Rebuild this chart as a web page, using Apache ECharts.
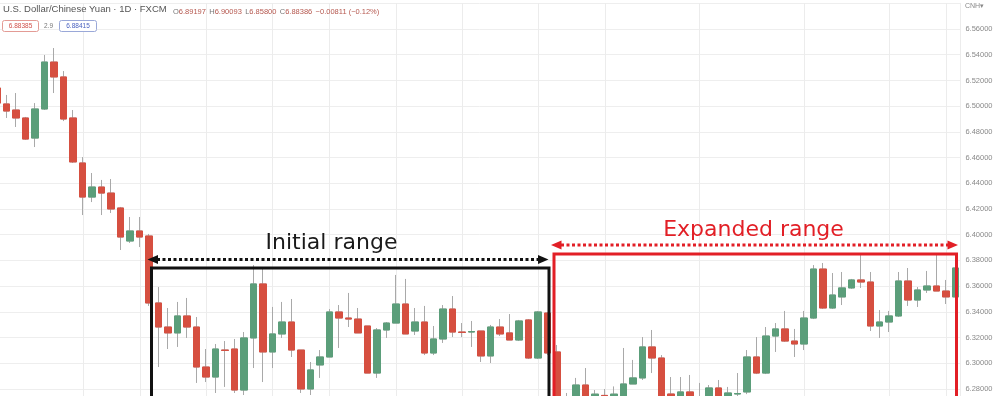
<!DOCTYPE html>
<html><head><meta charset="utf-8">
<script src="https://cdn.jsdelivr.net/npm/echarts/dist/echarts.min.js"></script>
<style>html,body{margin:0;padding:0;background:#fff}#c{width:997px;height:396px}</style>
</head><body><div id="c"></div><script>
// Daily candles USD/CNH (open, close, low, high)
const opens  = [6.5141,6.5017,6.4970,6.4908,6.4752,6.4978,6.5343,6.5227,6.4908,6.4558,6.4293,6.4371,6.4324,6.4208,6.3951,6.4029,6.3990,6.3469,6.3282,6.3236,6.3368,6.3282,6.2971,6.2893,6.3103,6.3111,6.2792,6.3197,6.3617,6.3088,6.3228,6.3321,6.3103,6.2800,6.2987,6.3049,6.3399,6.3352,6.3344,6.3290,6.2924,6.3259,6.3313,6.3461,6.3251,6.3321,6.3080,6.3189,6.3422,6.3243,6.3243,6.3251,6.3057,6.3282,6.3236,6.3181,6.3337,6.3041,6.3391,6.3088,6.2740,6.2740,6.2831,6.2720,6.2750,6.2740,6.2740,6.2839,6.2886,6.3127,6.3041,6.2761,6.2730,6.2777,6.2735,6.2720,6.2808,6.2740,6.2761,6.2777,6.3049,6.2924,6.3212,6.3267,6.3173,6.3150,6.3352,6.3733,6.3430,6.3516,6.3586,6.3648,6.3632,6.3290,6.3321,6.3368,6.3640,6.3492,6.3570,6.3601,6.3562,6.3516];
const closes = [6.5024,6.4962,6.4908,6.4744,6.4978,6.5343,6.5227,6.4900,6.4566,6.4293,6.4371,6.4324,6.4200,6.3982,6.4029,6.3982,6.3469,6.3282,6.3236,6.3368,6.3282,6.2971,6.2893,6.3111,6.3100,6.2792,6.3197,6.3617,6.3088,6.3228,6.3321,6.3103,6.2800,6.2948,6.3049,6.3399,6.3352,6.3344,6.3236,6.2924,6.3259,6.3313,6.3461,6.3228,6.3321,6.3080,6.3189,6.3422,6.3243,6.3240,6.3247,6.3057,6.3282,6.3228,6.3181,6.3329,6.3041,6.3399,6.3080,6.2714,6.2690,6.2831,6.2730,6.2760,6.2730,6.2760,6.2839,6.2886,6.3127,6.3041,6.2720,6.2730,6.2777,6.2735,6.2725,6.2808,6.2730,6.2769,6.2765,6.3049,6.2924,6.3212,6.3267,6.3173,6.3150,6.3352,6.3733,6.3430,6.3531,6.3586,6.3648,6.3632,6.3290,6.3321,6.3368,6.3640,6.3492,6.3570,6.3601,6.3562,6.3516,6.3741];
const lows   = [6.5001,6.4908,6.4838,6.4737,6.4682,6.4970,6.5102,6.4884,6.4558,6.4153,6.4254,6.4153,6.4169,6.3881,6.3936,6.3904,6.3446,6.2971,6.3111,6.3127,6.3197,6.2847,6.2854,6.2769,6.2816,6.2769,6.2753,6.2963,6.2854,6.2963,6.3197,6.3049,6.2769,6.2753,6.2886,6.3049,6.3119,6.3282,6.3236,6.2924,6.2886,6.3197,6.3313,6.3228,6.3220,6.3064,6.3064,6.3158,6.3204,6.3204,6.3127,6.3010,6.3002,6.3212,6.3181,6.3173,6.3033,6.3033,6.3064,6.2676,6.2650,6.2700,6.2700,6.2690,6.2700,6.2700,6.2720,6.2839,6.2870,6.2924,6.2700,6.2700,6.2710,6.2710,6.2700,6.2700,6.2700,6.2720,6.2730,6.2760,6.2916,6.2916,6.3088,6.3166,6.3049,6.3103,6.3344,6.3422,6.3422,6.3453,6.3578,6.3586,6.3251,6.3197,6.3243,6.3360,6.3446,6.3438,6.3547,6.3562,6.3461,6.3510];
const highs  = [6.5172,6.5087,6.5102,6.4916,6.5024,6.5398,6.5452,6.5273,6.4970,6.4604,6.4480,6.4426,6.4433,6.4216,6.4138,6.4138,6.4006,6.3593,6.3430,6.3477,6.3508,6.3360,6.3111,6.3150,6.3173,6.3189,6.3243,6.3764,6.3741,6.3438,6.3477,6.3500,6.3103,6.3010,6.3103,6.3422,6.3453,6.3547,6.3430,6.3290,6.3274,6.3321,6.3687,6.3656,6.3430,6.3446,6.3290,6.3453,6.3523,6.3313,6.3329,6.3251,6.3298,6.3344,6.3383,6.3337,6.3344,6.3407,6.3399,6.3142,6.2769,6.2886,6.2963,6.2792,6.2800,6.2820,6.3119,6.3026,6.3204,6.3259,6.3064,6.2893,6.2893,6.2909,6.2847,6.2831,6.2870,6.2816,6.2924,6.3103,6.3204,6.3282,6.3313,6.3407,6.3267,6.3407,6.3764,6.3780,6.3702,6.3710,6.3656,6.3842,6.3710,6.3414,6.3407,6.3710,6.3741,6.3593,6.3718,6.3850,6.3648,6.3745];
// category indices where the time-grid (vertical) lines fall
const timeGridIdx = [9,15,22,29,35,42,49,57,64,74,85,94,100];
const priceMin = 6.26, priceMax = 6.58, priceStep = 0.02;
const categories = opens.map((_, i) => String(i));

const UP = '#5b9e7a', DOWN = '#d64f40', WICK = '#a9a9a9';
const fullData = opens.map((o, i) => [o, closes[i], lows[i], highs[i]]);
const bodyData = opens.map((o, i) => [o, closes[i], Math.min(o, closes[i]), Math.max(o, closes[i])]);

const chart = echarts.init(document.getElementById('c'), null, {renderer: 'canvas'});
chart.setOption({
  animation: false,
  backgroundColor: '#ffffff',
  grid: {left: -7.5, top: 3.3, width: 967.9, height: 411.4, containLabel: false, outerBoundsMode: 'none'},
  xAxis: {
    type: 'category', data: categories, boundaryGap: true,
    axisLine: {show: false}, axisTick: {show: false}, axisLabel: {show: false}, splitLine: {show: false}
  },
  yAxis: {
    type: 'value', position: 'right', min: priceMin, max: priceMax, interval: priceStep, scale: true,
    axisLine: {show: true, lineStyle: {color: '#ececec'}}, axisTick: {show: false},
    splitLine: {show: true, lineStyle: {color: '#eeeeee', width: 1}},
    axisLabel: {
      margin: 5, color: '#8a8a8a', fontSize: 7.5, fontFamily: 'Liberation Sans',
      formatter: v => (v > priceMax - 0.005 || v < priceMin + 0.005) ? '' : v.toFixed(5)
    }
  },
  series: [
    {
      type: 'custom', z: 0, silent: true,
      data: timeGridIdx.map(i => [i]),
      encode: {x: 0},
      renderItem: (params, api) => {
        const x = Math.round(api.coord([api.value(0), 6.4])[0]) + 0.5;
        const cs = params.coordSys;
        return {type: 'line', shape: {x1: x, y1: cs.y, x2: x, y2: cs.y + cs.height},
                style: {stroke: '#ececec', lineWidth: 1}};
      }
    },
    {
      type: 'candlestick', z: 2, barWidth: 7, data: fullData, silent: true,
      itemStyle: {color: UP, color0: DOWN, borderColor: WICK, borderColor0: WICK, borderWidth: 1}
    },
    {
      type: 'candlestick', z: 3, barWidth: 7, data: bodyData, silent: true,
      itemStyle: {color: UP, color0: DOWN, borderColor: UP, borderColor0: DOWN, borderWidth: 1}
    }
  ],
  graphic: [
    {type: 'text', left: 3, top: 4, z: 50, style: {text: 'U.S. Dollar/Chinese Yuan · 1D · FXCM', font: '9.5px "Liberation Sans"', fill: '#555'}},
    {type: 'text', left: 173, top: 6, z: 50, style: {
      text: '{k|O}{v|6.89197} {k|H}{v|6.90093} {k|L}{v|6.85800} {k|C}{v|6.88386} {v|−0.00811 (−0.12%)}',
      rich: {k: {fontSize: 7.5, fill: '#777', fontFamily: 'Liberation Sans'}, v: {fontSize: 7.5, fill: '#b5574e', fontFamily: 'Liberation Sans'}}
    }},
    {type: 'rect', z: 50, shape: {x: 2.5, y: 20.5, width: 36, height: 11, r: 2}, style: {fill: '#fff', stroke: '#e39b95', lineWidth: 1}},
    {type: 'text', z: 51, x: 20.5, y: 26, style: {text: '6.88385', font: '6.5px "Liberation Sans"', fill: '#d0504a', align: 'center', verticalAlign: 'middle'}},
    {type: 'text', z: 51, x: 44, y: 26, style: {text: '2.9', font: '6.5px "Liberation Sans"', fill: '#777', verticalAlign: 'middle'}},
    {type: 'rect', z: 50, shape: {x: 59.5, y: 20.5, width: 37, height: 11, r: 2}, style: {fill: '#fff', stroke: '#9aa8d8', lineWidth: 1}},
    {type: 'text', z: 51, x: 78, y: 26, style: {text: '6.88415', font: '6.5px "Liberation Sans"', fill: '#4a62c0', align: 'center', verticalAlign: 'middle'}},
    {type: 'text', z: 51, x: 965, y: 6, style: {text: 'CNH▾', font: '7px "Liberation Sans"', fill: '#888', verticalAlign: 'middle'}},

    // Initial range
    {type: 'rect', z: 60, shape: {x: 151.5, y: 268, width: 397.5, height: 200}, style: {fill: 'none', stroke: '#111', lineWidth: 3}},
    {type: 'line', z: 60, shape: {x1: 157, y1: 259.5, x2: 539, y2: 259.5}, style: {stroke: '#111', lineWidth: 3, lineDash: [3, 2.5]}},
    {type: 'polygon', z: 60, shape: {points: [[147.5, 259.5], [158, 255], [158, 264]]}, style: {fill: '#111'}},
    {type: 'polygon', z: 60, shape: {points: [[548.5, 259.5], [538, 255], [538, 264]]}, style: {fill: '#111'}},
    {type: 'text', z: 60, x: 331.5, y: 243.5, style: {text: 'Initial range', font: '22px "DejaVu Sans"', fill: '#1a1a1a', align: 'center', verticalAlign: 'middle'}},

    // Expanded range
    {type: 'rect', z: 60, shape: {x: 554, y: 254, width: 402.5, height: 200}, style: {fill: 'none', stroke: '#e21f26', lineWidth: 3}},
    {type: 'line', z: 60, shape: {x1: 561, y1: 245, x2: 948, y2: 245}, style: {stroke: '#e21f26', lineWidth: 3, lineDash: [3, 2.5]}},
    {type: 'polygon', z: 60, shape: {points: [[551, 245], [561.5, 240.5], [561.5, 249.5]]}, style: {fill: '#e21f26'}},
    {type: 'polygon', z: 60, shape: {points: [[958, 245], [947.5, 240.5], [947.5, 249.5]]}, style: {fill: '#e21f26'}},
    {type: 'text', z: 60, x: 753.5, y: 230.5, style: {text: 'Expanded range', font: '22px "DejaVu Sans"', fill: '#e21f26', align: 'center', verticalAlign: 'middle'}}
  ]
});
</script></body></html>
